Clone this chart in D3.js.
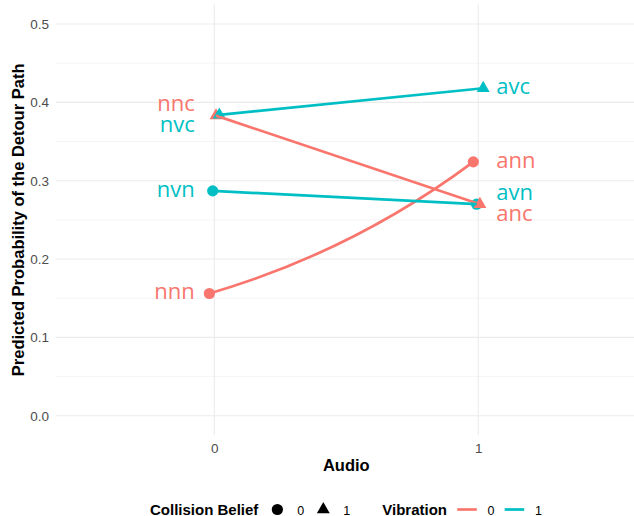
<!DOCTYPE html>
<html>
<head>
<meta charset="utf-8">
<script src="https://cdn.jsdelivr.net/npm/d3@7"></script>
<style>
body{margin:0;background:#fff;}
svg{display:block;font-family:"Liberation Sans",Arial,sans-serif;}
</style>
</head>
<body>
<div id="chart"></div>
<script>
// data
var audioLevels = ['0', '1'];
var conditionLabels = ['nnn', 'nnc', 'nvn', 'nvc', 'ann', 'anc', 'avn', 'avc'];
var audioValues = [0, 0, 0, 0, 1, 1, 1, 1];
var vibrationValues = [0, 0, 1, 1, 0, 0, 1, 1];
var collisionValues = [0, 1, 0, 1, 0, 1, 0, 1];
var predictedProb = [0.156, 0.383, 0.287, 0.384, 0.324, 0.270, 0.270, 0.418];
var yTicks = [0, 0.1, 0.2, 0.3, 0.4, 0.5];
var vibrationLevels = ['0', '1'];
var collisionLevels = ['0', '1'];

// styling / layout
var width = 634, height = 516;
var colors = {0: '#F8766D', 1: '#00BFC4'};
var gridColor = '#EBEBEB';
var dodgeStep = 0.0125;
var curvature = {'0-0': 0.09};   // the nnn -> ann line is drawn bent
var labelGap = 21;

var svg = d3.select('#chart').append('svg')
    .attr('width', width)
    .attr('height', height);

var x = d3.scaleLinear().domain([-0.6, 1.6]).range([56, 636.6]);
var y = d3.scaleLinear().domain([-0.025, 0.525]).range([435.3, 4.4]);

var points = conditionLabels.map(function(label, i){
    return {
        label: label,
        audio: audioValues[i],
        vib: vibrationValues[i],
        col: collisionValues[i],
        p: predictedProb[i],
        order: i
    };
});
points.forEach(function(d){
    var slot = d.col * 2 + d.vib;
    d.px = x(d.audio + (slot - 1.5) * dodgeStep);
    d.py = y(d.p);
});

//grid
var $grid = svg.append('g');
var minor = d3.range(0.05, 0.5, 0.1);
$grid.selectAll('line.minor').data(minor).enter().append('line')
    .attr('x1', x.range()[0]).attr('x2', x.range()[1])
    .attr('y1', function(d){ return y(d); }).attr('y2', function(d){ return y(d); })
    .attr('stroke', gridColor).attr('stroke-width', 0.55);
$grid.selectAll('line.major-y').data(yTicks).enter().append('line')
    .attr('x1', x.range()[0]).attr('x2', x.range()[1])
    .attr('y1', function(d){ return y(d); }).attr('y2', function(d){ return y(d); })
    .attr('stroke', gridColor).attr('stroke-width', 1.1);
$grid.selectAll('line.major-x').data([0, 1]).enter().append('line')
    .attr('x1', function(d){ return x(d); }).attr('x2', function(d){ return x(d); })
    .attr('y1', y.range()[0]).attr('y2', y.range()[1])
    .attr('stroke', gridColor).attr('stroke-width', 1.1);

//axis-y
var axisY = d3.axisLeft(y).tickValues(yTicks).tickFormat(d3.format('.1f')).tickSize(0).tickPadding(7);
var $axisY = svg.append('g').attr('transform', 'translate(' + x.range()[0] + ',0)').call(axisY);
$axisY.select('.domain').remove();
$axisY.selectAll('text').attr('font-size', '13.5px').attr('font-family', '"Liberation Sans",Arial,sans-serif').attr('fill', '#4D4D4D');

//axis-x
var axisX = d3.axisBottom(x).tickValues([0, 1]).tickFormat(function(d){ return audioLevels[d]; }).tickSize(0).tickPadding(8);
var $axisX = svg.append('g').attr('transform', 'translate(0,' + y.range()[0] + ')').call(axisX);
$axisX.select('.domain').remove();
$axisX.selectAll('text').attr('font-size', '13.5px').attr('font-family', '"Liberation Sans",Arial,sans-serif').attr('fill', '#4D4D4D');

// axis titles
svg.append('text')
    .attr('x', (x.range()[0] + x.range()[1]) / 2).attr('y', 471)
    .attr('text-anchor', 'middle').attr('font-size', '16.5px').attr('font-weight', 'bold')
    .text('Audio');
svg.append('text')
    .attr('transform', 'translate(23.5,' + (y.range()[0] + y.range()[1]) / 2 + ') rotate(-90)')
    .attr('text-anchor', 'middle').attr('font-size', '16.5px').attr('font-weight', 'bold')
    .text('Predicted Probability of the Detour Path');

//points, circles first then triangles
var triangle = d3.symbol().type(d3.symbolTriangle).size(72);
var sorted = points.slice().sort(function(a, b){ return a.col - b.col || a.order - b.order; });
var $points = svg.append('g');
sorted.forEach(function(d){
    if(d.col === 0){
        $points.append('circle').attr('cx', d.px).attr('cy', d.py).attr('r', 5.6).attr('fill', colors[d.vib]);
    }else{
        $points.append('path').attr('d', triangle()).attr('transform', 'translate(' + d.px + ',' + d.py + ')').attr('fill', colors[d.vib]);
    }
});

//lines
var groups = d3.groups(points, function(d){ return d.vib + '-' + d.col; });
var $lines = svg.append('g');
groups.forEach(function(g){
    var pts = g[1].slice().sort(function(a, b){ return a.audio - b.audio; });
    var a = pts[0], b = pts[1];
    var k = curvature[g[0]] || 0;
    var path = d3.path();
    path.moveTo(a.px, a.py);
    if(k){
        // control point sits off the chord's midpoint, to its right
        var dx = b.px - a.px, dy = b.py - a.py;
        var cx = (a.px + b.px) / 2 - dy * k;
        var cy = (a.py + b.py) / 2 + dx * k;
        path.quadraticCurveTo(cx, cy, b.px, b.py);
    }else{
        path.lineTo(b.px, b.py);
    }
    $lines.append('path').attr('d', path.toString())
        .attr('fill', 'none').attr('stroke', colors[a.vib]).attr('stroke-width', 2.7);
});

//labels, pushed apart where they collide
var $labels = svg.append('g');
[0, 1].forEach(function(side){
    var items = points.filter(function(d){ return d.audio === side; });
    items.sort(function(a, b){
        return (Math.round(b.p * 100) - Math.round(a.p * 100)) || (a.col - b.col) || (a.order - b.order);
    });
    items.forEach(function(d){ d.ly = d.py; });
    for(var iter = 0; iter < 50; iter++){
        for(var i = 1; i < items.length; i++){
            var gap = items[i].ly - items[i - 1].ly;
            if(gap < labelGap){
                var push = (labelGap - gap) / 2;
                items[i].ly += push;
                items[i - 1].ly -= push;
            }
        }
    }
    items.forEach(function(d){
        $labels.append('text')
            .attr('x', side === 0 ? x(0) - 19.5 : x(1) + 18)
            .attr('y', d.ly + 22 * 0.27)
            .attr('text-anchor', side === 0 ? 'end' : 'start')
            .attr('font-family', '"Open Sans",sans-serif')
            .attr('font-size', '22px')
            .attr('fill', colors[d.vib])
            .text(d.label);
    });
});

//legend
var legendY = 509.5;
var $legend = svg.append('g');
var cursor = 150;
function legendText(str, bold, size){
    var t = $legend.append('text').attr('x', cursor).attr('y', legendY + 5)
        .attr('font-size', size).attr('font-weight', bold ? 'bold' : 'normal').text(str);
    cursor += t.node().getComputedTextLength();
}
legendText('Collision Belief', true, '15px');
collisionLevels.forEach(function(level){
    cursor += 19;
    if(level === '0'){
        $legend.append('circle').attr('cx', cursor).attr('cy', legendY).attr('r', 5.6).attr('fill', '#000');
    }else{
        $legend.append('path').attr('d', triangle()).attr('transform', 'translate(' + cursor + ',' + legendY + ')').attr('fill', '#000');
    }
    cursor += 20;
    legendText(level, false, '12.5px');
});
cursor += 32;
legendText('Vibration', true, '15px');
vibrationLevels.forEach(function(level){
    cursor += 20;
    $legend.append('line').attr('x1', cursor - 9.8).attr('x2', cursor + 9.8)
        .attr('y1', legendY).attr('y2', legendY)
        .attr('stroke', colors[level]).attr('stroke-width', 2.7);
    cursor += 20.5;
    legendText(level, false, '12.5px');
});
</script>
</body>
</html>
